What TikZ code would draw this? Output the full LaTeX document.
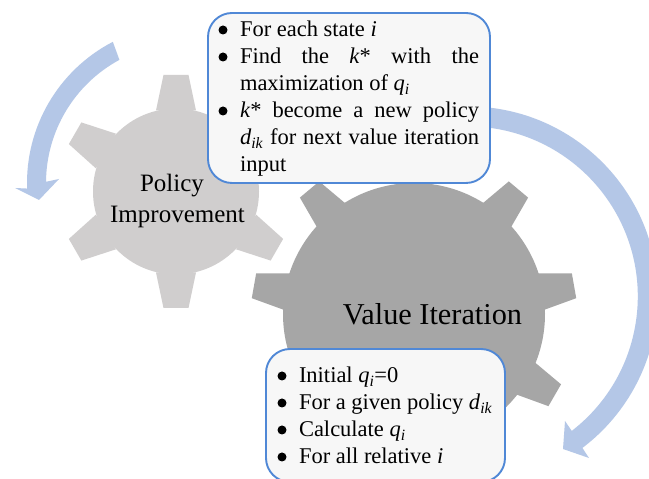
\documentclass[tikz,border=0pt]{standalone}
\usepackage{fontspec}
\setmainfont{Liberation Serif}
\definecolor{lightgear}{HTML}{D0CECE}
\definecolor{darkgear}{HTML}{A6A6A6}
\definecolor{arrowblue}{HTML}{B4C7E7}
\definecolor{boxedge}{HTML}{5088D6}
\definecolor{boxfill}{HTML}{F7F7F7}
\newcommand{\qi}{\textit{q}\textsubscript{\textit{i}}}
\newcommand{\dik}{\textit{d}\textsubscript{\textit{ik}}}
\newcommand{\gearshape}[9]{%
  \fill[#9] (#1,#2) circle (#3);
  \foreach \a in {#7}
    \fill[#9,shift={(#1,#2)},rotate=\a] (#3-2,-#5) -- (#4,-#6) -- (#4,#6) -- (#3-2,#5) -- cycle;
}
\tikzset{
  x=1pt,y=1pt,
  infobox/.style={draw=boxedge,fill=boxfill,line width=1.9pt,rounded corners=24pt,inner sep=0pt,outer sep=0pt},
  itemline/.style={anchor=base west,inner sep=0pt,outer sep=0pt,font=\fontsize{22.5}{27}\selectfont},
  dot/.style={circle,fill=black,inner sep=0pt,minimum size=9pt},
  gearlabel/.style={anchor=base,inner sep=0pt,outer sep=0pt},
}
\begin{document}
\begin{tikzpicture}
\useasboundingbox (0,0) rectangle (649,479);
\clip (0,0) rectangle (649,479);
\fill[white] (0,0) rectangle (649,479);
% gears
\gearshape{176}{287.5}{83}{116.5}{20}{12.5}{90,150,210,270,330,30}{}{lightgear}
\gearshape{414}{165}{131}{162.5}{18.5}{12.6}{10,50,90,130,170,210,250,290,330}{}{darkgear}
% circular arrows
\fill[arrowblue,shift={(186,296)}]
  (117.4:159) arc[start angle=117.4,end angle=182,radius=159]
  -- (-171,-5) -- (-147,-17) -- (-127,4)
  -- (179.5:140) arc[start angle=179.5,end angle=118.4,radius=140] -- cycle;
\fill[arrowblue,shift={(467.8,182.6)}]
  (88:190) arc[start angle=88,end angle=-52.9,radius=190]
  -- (121.2,-161.6) -- (95.2,-152.6) -- (97.2,-124.6)
  -- (-52.3:170) arc[start angle=-52.3,end angle=88,radius=170] -- cycle;
% gear labels
\node[gearlabel,font=\fontsize{25}{30}\selectfont] (policy) at (172,287) {Policy};
\node[gearlabel,font=\fontsize{25}{30}\selectfont] (improvement) at (177.5,256) {Improvement};
\node[gearlabel,font=\fontsize{30.3}{36}\selectfont] (value) at (432.5,154.5) {Value Iteration};
% top box
\node[infobox,minimum width=282pt,minimum height=170pt] (topbox) at (349,381) {};
\node[dot] (d1) at (223,449) {};
\node[dot] (d2) at (223,422) {};
\node[dot] (d3) at (223,368) {};
\node[itemline] (t1) at (240,442) {For each state \textit{i}};
\node[itemline] (t2) at (240,415) {\makebox[239pt][s]{Find the \textit{k}* with the}};
\node[itemline] (t3) at (240,388) {maximization of \qi};
\node[itemline] (t4) at (240,361) {\makebox[239pt][s]{\textit{k}* become a new policy}};
\node[itemline] (t5) at (240,334) {\makebox[239pt][s]{\dik{} for next value iteration}};
\node[itemline] (t6) at (240,307) {input};
% bottom box
\node[infobox,minimum width=239pt,minimum height=133pt] (botbox) at (385.5,63.5) {};
\node[dot] (e1) at (282,103) {};
\node[dot] (e2) at (282,76) {};
\node[dot] (e3) at (282,49) {};
\node[dot] (e4) at (282,22) {};
\node[itemline] (u1) at (299,96) {Initial \qi=0};
\node[itemline] (u2) at (299,69) {For a given policy \dik};
\node[itemline] (u3) at (299,42) {Calculate \qi};
\node[itemline] (u4) at (299,15) {For all relative \textit{i}};
\end{tikzpicture}
\end{document}
